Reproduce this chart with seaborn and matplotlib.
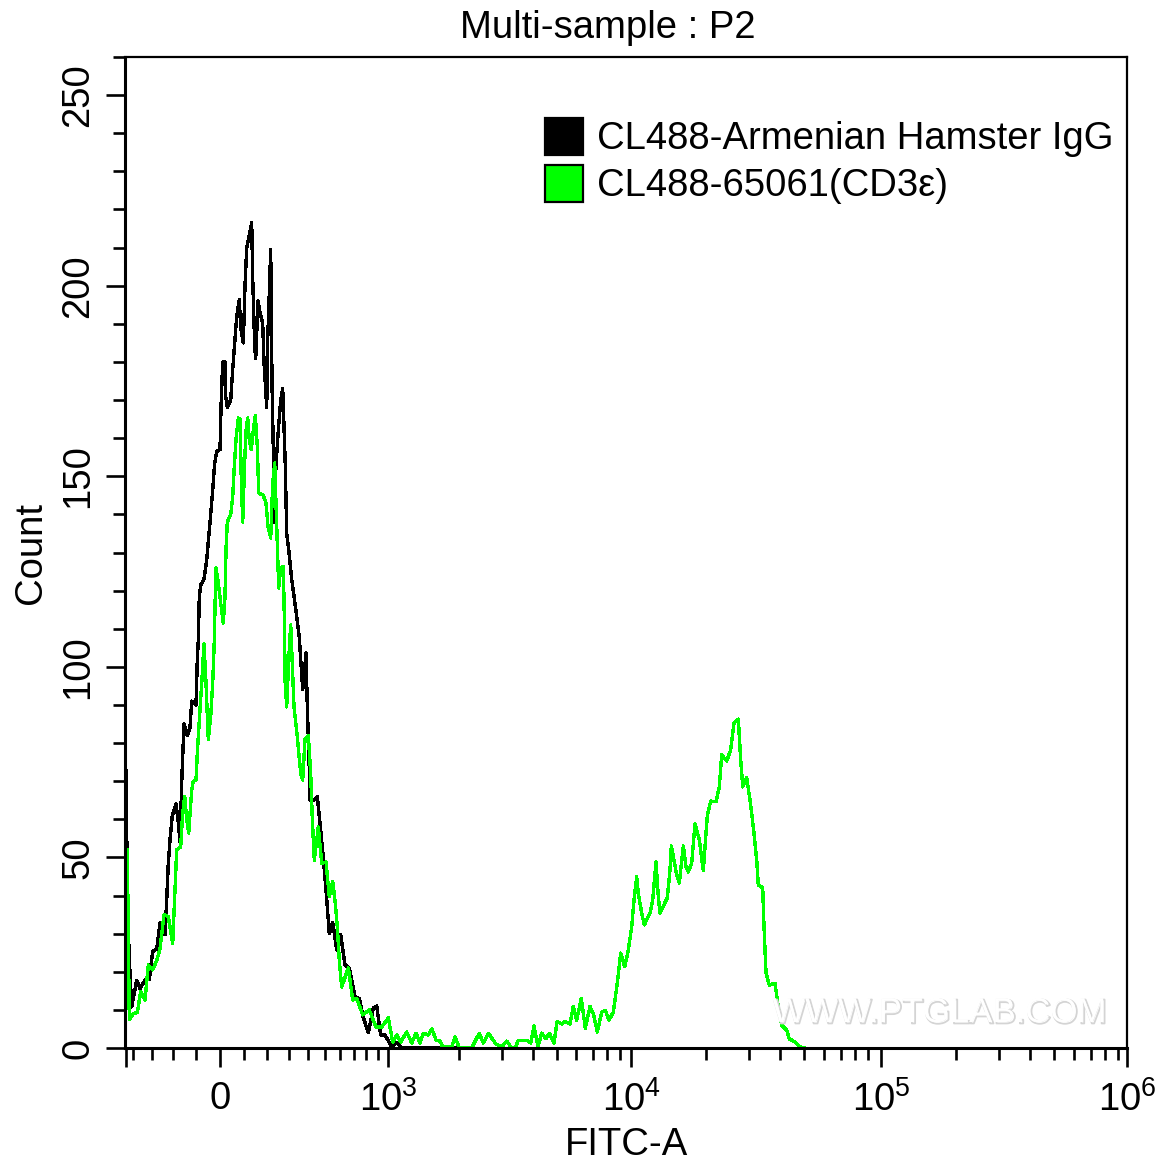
import matplotlib
matplotlib.use("Agg")
import matplotlib.pyplot as plt
import matplotlib.patheffects as pe
from matplotlib.patches import Patch
import numpy as np
import pandas as pd
import seaborn as sns

# --- DATA ---
# (display channel of the cytometer axis, event count)
igg_trace = [
    (1, 73), (2, 50), (4, 25), (6.7, 10.8), (11.7, 17.8), (15, 15.6), (20, 17.8), (24.3, 18), (27.7, 25.3),
    (31.7, 26), (35, 32.8), (40, 29.7), (41.7, 38.8), (43.3, 48.5), (45, 54.6), (47.3, 61), (51, 64), (53, 60),
    (55, 54), (57, 72), (59, 85), (62.3, 82), (65, 84), (66.7, 91), (71, 90), (72.3, 102), (73.3, 107), (74.3, 118.5),
    (75.7, 121.5), (79, 123), (81.7, 128), (84, 135), (85.7, 140), (87.7, 146.5), (89.7, 153.5), (91.7, 156.5),
    (95, 157), (96, 168), (97.7, 180), (100, 180), (100.7, 171), (102.3, 168), (105.7, 170), (107.7, 178),
    (109.7, 185), (111.7, 192), (114.3, 196.3), (115.7, 189), (118.3, 185), (120, 200), (121.7, 210), (126.7, 216.5),
    (127.7, 202), (129.7, 184), (130.7, 181), (133, 196), (135, 193), (137.7, 190), (139, 180), (141.7, 168),
    (142.7, 186), (144.3, 198), (145.7, 209.5), (147, 174.5), (148.3, 157), (149, 138), (151, 153), (153.3, 162),
    (155.7, 170), (157.7, 173), (159, 163), (160.3, 152.6), (161.7, 135), (164, 130), (166.7, 123), (169.3, 118),
    (172.3, 112), (174.3, 107.6), (175.7, 102), (177.7, 94), (181, 103.6), (182.3, 89.5), (184, 76), (185, 65),
    (189, 65), (192.3, 66), (195, 59), (198.3, 50), (201.7, 39), (204.3, 30), (207.7, 33), (211.7, 25.7),
    (215.7, 29.7), (220, 21.8), (224.3, 21), (230, 13.5), (234.3, 13), (238.3, 8), (243.3, 4), (248.3, 10.5),
    (251.7, 11), (255.7, 3.4), (260, 3.4), (266.7, 0.3), (271.7, 1.5), (276.7, 0), (345, 0),
]
cd3_trace = [
    (2.3, 52), (4.3, 7.4), (8.3, 9), (12.3, 9.3), (15.7, 14.8), (20, 12.6), (23.3, 21.8), (27.7, 20.5), (31.7, 23),
    (35, 26), (39, 35), (43.3, 34.4), (47.7, 27.5), (50, 41.5), (51.7, 52), (55.7, 52.8), (57.7, 61.6), (59.7, 66),
    (61.7, 60), (63.7, 56.4), (66.7, 67.7), (68.3, 70), (71, 70.3), (72.3, 77.3), (74.3, 86), (76.7, 95.7), (79, 106),
    (81, 95.7), (83.3, 81), (85.7, 87), (87.7, 95.7), (89.3, 107), (90, 115.7), (91, 126), (93.3, 122), (95.7, 116.7),
    (98.3, 111.5), (100, 118.5), (101, 130.7), (102.3, 138), (105.7, 140), (107.7, 144.7), (109.3, 152.6), (111, 159.6),
    (113.3, 165.3), (115, 165), (116.3, 149), (117.7, 138), (119.7, 154), (121, 162), (122.7, 165.3), (124.3, 159.6),
    (126.3, 157), (128.3, 162), (130.3, 166), (132.3, 157.8), (133.7, 145.6), (138.3, 145), (141, 143), (143, 136.8),
    (145.7, 133.8), (147.7, 148), (149.7, 153.5), (151.7, 137), (153.7, 120.7), (155.7, 126), (158.3, 126.3),
    (159.7, 108), (160, 96.6), (161.7, 89.5), (163.7, 101.8), (165.7, 111), (169, 89.5), (172.3, 81.7), (175.7, 72),
    (177.7, 70.3), (180, 81), (183.3, 82), (185.7, 72), (187.3, 60), (189.3, 49.3), (191.7, 54.6), (193.3, 58),
    (196.7, 48.5), (201, 48.8), (204.3, 39.7), (207.7, 43.6), (210.3, 38), (212.3, 31.8), (214.3, 23), (216.7, 16),
    (223.3, 21), (227.7, 12.6), (231.7, 13), (237.7, 8.7), (244.3, 10), (251, 5.5), (256.7, 5.5), (263.3, 7.9),
    (267.7, 1.6), (271.7, 3.4), (275.7, 1.6), (281.7, 4.2), (286.7, 1.3), (291, 3.9), (295, 1.3), (298.3, 3.9),
    (303.3, 3.4), (307, 5), (311, 2.1), (315, 1.8), (317.7, 0.3), (326.7, 0.3), (330, 2.9), (334.3, 0), (346.7, 0),
    (354.3, 3.9), (358.3, 1.3), (363.3, 3.9), (371, 1), (376.7, 0.3), (381.7, 1.8), (386.7, 0), (390, 0), (393.3, 2),
    (401.7, 2), (405.7, 1.3), (409, 5.8), (413, 0.3), (416.7, 3.9), (421, 2.4), (424.3, 3.9), (429, 1.3), (432, 6.9),
    (436.7, 6.3), (440, 6.9), (445, 6.3), (448.3, 10.9), (451.7, 7.3), (456.3, 13), (460.3, 5.2), (465, 10.9),
    (468.3, 9), (472.3, 4.2), (476.7, 9.4), (480.3, 9.9), (484, 7.3), (488.3, 9.4), (492.3, 17), (495.7, 24.9),
    (499.7, 21.3), (503.3, 25.7), (506.7, 31.8), (509, 38.8), (511.7, 44.9), (513.3, 40.6), (516.7, 35.4),
    (519.3, 32.3), (525, 35.4), (527.7, 38.8), (531, 48.8), (533.3, 39.7), (535, 35.4), (542.3, 39.4), (545, 46.7),
    (546.3, 53), (549, 49.3), (551.7, 45.4), (554.3, 43.3), (558.3, 53), (561, 47.5), (563.3, 46.2), (566.7, 48.5),
    (570, 58.8), (574.3, 54.6), (578.3, 46.5), (581, 56.4), (582.3, 61), (585.7, 64.8), (591, 64.6), (594.3, 68.5),
    (596.7, 76.9), (601.7, 75.3), (605.7, 78.2), (609, 85.3), (613.3, 86.3), (615.7, 75.6), (617.7, 68.5),
    (621.7, 70.9), (625, 65), (628.3, 58), (631.7, 49.3), (633.3, 42.8), (637.7, 42), (639, 31.8), (641, 19.7),
    (644.3, 16.5), (650, 17), (653.3, 10.8), (656.7, 6), (661.7, 4.7), (664.3, 2.4), (670, 1.6), (675, 0.3), (680, 0),
]

series_names = ["CL488-Armenian Hamster IgG", "CL488-65061(CD3ε)"]
series_colors = ["#000000", "#00ff00"]

# channel position of each FITC-A tick on the biexponential axis
major_channels = [0.7, 95.3, 263.3, 506.3, 756, 1002]
major_labels = ["", "0", "$\\mathdefault{10^{3}}$", "$\\mathdefault{10^{4}}$",
                "$\\mathdefault{10^{5}}$", "$\\mathdefault{10^{6}}$"]
minor_channels = [8, 27.3, 48.3, 71.3, 119.3, 142.3, 164.3, 183.3, 200.3, 215.3, 229.3, 241.3, 252.7,
                  334.3, 377.3, 407.7, 432, 451.3, 468.3, 482.3, 495.3, 581.3, 624.3, 655.3, 679.3, 699, 716, 730,
                  743, 831, 874, 905, 929, 949, 966, 980, 993]

# --- STYLE ---
sns.set_theme(style="ticks")
plt.rcParams['font.family'] = ['Liberation Sans', 'DejaVu Sans']
plt.rcParams['axes.unicode_minus'] = False
FONT = 27.5

df = pd.concat([
    pd.DataFrame(igg_trace, columns=['channel', 'count']).assign(sample=series_names[0]),
    pd.DataFrame(cd3_trace, columns=['channel', 'count']).assign(sample=series_names[1]),
])

fig = plt.figure(figsize=(11.75, 11.65), dpi=100)
ax = fig.add_axes([125 / 1175, 1 - 1048 / 1165, 1002 / 1175, 991 / 1165])

sns.lineplot(data=df, x='channel', y='count', hue='sample', hue_order=series_names, palette=series_colors,
             estimator=None, sort=False, legend=False, linewidth=1.7, antialiased=False, ax=ax)

ax.set_xlim(0, 1002)
ax.set_ylim(0, 260)

# --- AXES ---
ax.set_xticks(major_channels)
ax.set_xticklabels(major_labels)
ax.set_xticks(minor_channels, minor=True)
ax.set_yticks(np.arange(0, 251, 50))
ax.set_yticks(np.arange(0, 261, 10), minor=True)
ax.set_yticklabels(["0", "50", "100", "150", "200", "250"], rotation=90, va='center')

ax.tick_params(axis='both', which='major', length=13.5, width=1.9, color='black', labelsize=FONT, labelcolor='black')
ax.tick_params(axis='both', which='minor', length=8.6, width=1.9, color='black')
ax.tick_params(axis='x', which='major', pad=10.5)
ax.tick_params(axis='y', which='major', pad=7)

for side in ['left', 'bottom']:
    ax.spines[side].set_linewidth(2.2)
for side in ['top', 'right']:
    ax.spines[side].set_linewidth(1.6)
for spine in ax.spines.values():
    spine.set_color('black')

ax.set_xlabel("FITC-A", fontsize=FONT, color='black', labelpad=5.5)
ax.set_ylabel("Count", fontsize=FONT, color='black', labelpad=8.5)
ax.set_title("Multi-sample : P2", fontsize=FONT, color='black', x=483 / 1002, pad=14)

# --- LEGEND ---
handles = [Patch(facecolor=c, edgecolor='black', linewidth=1.6) for c in series_colors]
ax.legend(handles, series_names, loc='upper left', bbox_to_anchor=(0.4195, 0.9385), frameon=False,
          fontsize=FONT, handlelength=0.98, handleheight=1.1, handletextpad=0.38, labelspacing=0.2,
          borderpad=0, borderaxespad=0, labelcolor='black')

# --- WATERMARK ---
ax.text(814, 9.3, "WWW.PTGLAB.COM", fontsize=25, color='white', ha='center', va='center',
        path_effects=[pe.Stroke(linewidth=1.3, foreground='#d4d4d4', offset=(1, -1)), pe.Normal()])

plt.savefig("out.png", dpi=100)
plt.close()
